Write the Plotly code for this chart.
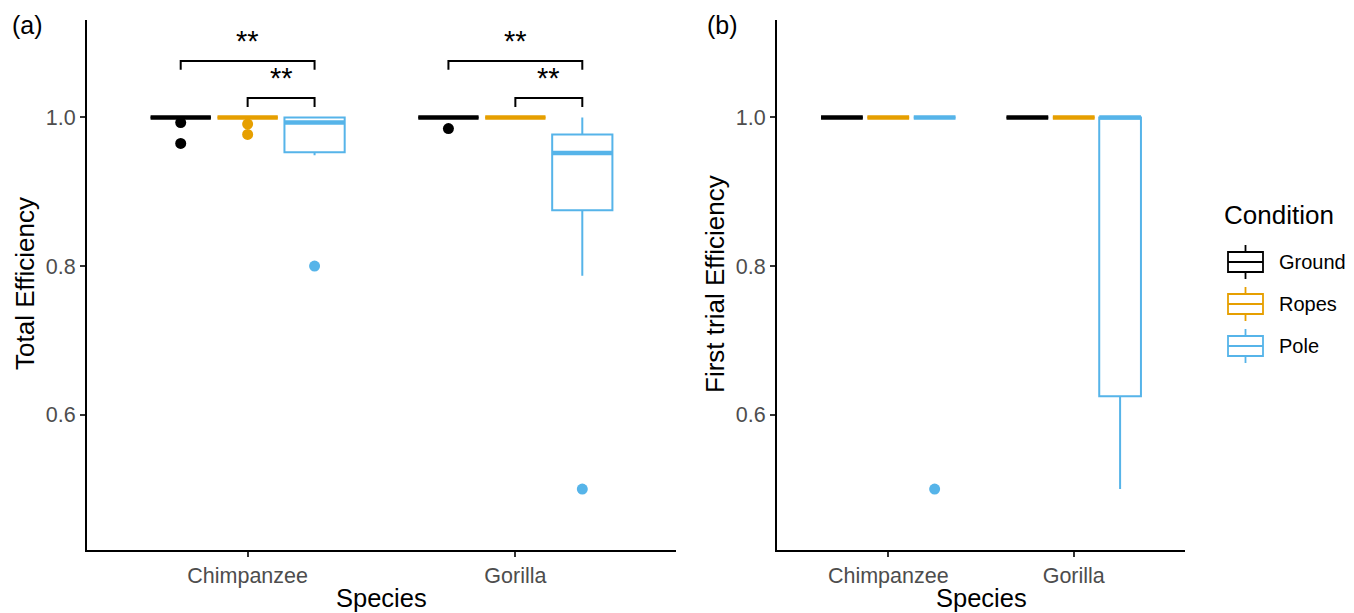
import plotly.graph_objects as go

# ---------------- data ----------------
species = ["Chimpanzee", "Gorilla"]
conditions = ["Ground", "Ropes", "Pole"]
colors = {"Ground": "#000000", "Ropes": "#E69F00", "Pole": "#56B4E9"}

# Panel (a): Total Efficiency, box statistics per condition -> [Chimpanzee, Gorilla]
total_q1 = {"Ground": [1.0, 1.0], "Ropes": [1.0, 1.0], "Pole": [0.953, 0.875]}
total_median = {"Ground": [1.0, 1.0], "Ropes": [1.0, 1.0], "Pole": [0.993, 0.952]}
total_q3 = {"Ground": [1.0, 1.0], "Ropes": [1.0, 1.0], "Pole": [1.0, 0.977]}
total_lower = {"Ground": [1.0, 1.0], "Ropes": [1.0, 1.0], "Pole": [0.949, 0.787]}
total_upper = {"Ground": [1.0, 1.0], "Ropes": [1.0, 1.0], "Pole": [1.0, 1.0]}
total_out_species = {"Ground": ["Chimpanzee", "Chimpanzee", "Gorilla"],
                     "Ropes": ["Chimpanzee", "Chimpanzee"],
                     "Pole": ["Chimpanzee", "Gorilla"]}
total_out_values = {"Ground": [0.993, 0.965, 0.985],
                    "Ropes": [0.991, 0.977],
                    "Pole": [0.80, 0.50]}

# Panel (b): First trial Efficiency
first_q1 = {"Ground": [1.0, 1.0], "Ropes": [1.0, 1.0], "Pole": [1.0, 0.625]}
first_median = {"Ground": [1.0, 1.0], "Ropes": [1.0, 1.0], "Pole": [1.0, 1.0]}
first_q3 = {"Ground": [1.0, 1.0], "Ropes": [1.0, 1.0], "Pole": [1.0, 1.0]}
first_lower = {"Ground": [1.0, 1.0], "Ropes": [1.0, 1.0], "Pole": [1.0, 0.50]}
first_upper = {"Ground": [1.0, 1.0], "Ropes": [1.0, 1.0], "Pole": [1.0, 1.0]}
first_out_species = {"Ground": [], "Ropes": [], "Pole": ["Chimpanzee"]}
first_out_values = {"Ground": [], "Ropes": [], "Pole": [0.50]}

# Significance brackets (panel a)
sig_species = ["Chimpanzee", "Chimpanzee", "Gorilla", "Gorilla"]
sig_from = ["Ground", "Ropes", "Ground", "Ropes"]
sig_to = ["Pole", "Pole", "Pole", "Pole"]
sig_y = [1.076, 1.026, 1.076, 1.026]
sig_label = ["**", "**", "**", "**"]

y_ticks = [0.6, 0.8, 1.0]
y_ticktext = ["0.6", "0.8", "1.0"]

# ---------------- geometry helpers ----------------
dodge = 0.75
box_w = 0.9 * dodge / len(conditions)
sp_pos = {s: i + 1 for i, s in enumerate(species)}


def pos(sp, cond):
    i = conditions.index(cond)
    return sp_pos[sp] + (i - (len(conditions) - 1) / 2) * dodge / len(conditions)


FONT = "Liberation Sans, Arial, Helvetica, sans-serif"
W, H = 1354, 613
OFF = 8  # page body margin


def px(P):
    return (P - OFF) / W


def py(P):
    return 1 - (P - OFF) / H


fig = go.Figure()


def add_panel(xa, ya, q1, med, q3, lo, up, osp, oval):
    for cond in conditions:
        c = colors[cond]
        xs = [pos(s, cond) for s in species]
        fig.add_trace(go.Box(
            x=xs, q1=q1[cond], median=med[cond], q3=q3[cond],
            lowerfence=lo[cond], upperfence=up[cond],
            width=box_w, whiskerwidth=0, boxpoints=False,
            line=dict(color=c, width=2), fillcolor="white",
            name=cond, showlegend=False,
            xaxis=xa, yaxis=ya, hoverinfo="skip"))
    for cond in conditions:
        c = colors[cond]
        mx, my = [], []
        for k, s in enumerate(species):
            p = pos(s, cond)
            mx += [p - box_w / 2, p + box_w / 2, None]
            my += [med[cond][k], med[cond][k], None]
        fig.add_trace(go.Scatter(x=mx, y=my, mode="lines",
                                 line=dict(color=c, width=4.5),
                                 showlegend=False, xaxis=xa, yaxis=ya,
                                 hoverinfo="skip"))
    for cond in conditions:
        if not oval[cond]:
            continue
        fig.add_trace(go.Scatter(
            x=[pos(s, cond) for s in osp[cond]], y=oval[cond], mode="markers",
            marker=dict(color=colors[cond], size=11),
            showlegend=False, xaxis=xa, yaxis=ya, hoverinfo="skip"))


add_panel("x", "y", total_q1, total_median, total_q3, total_lower, total_upper,
          total_out_species, total_out_values)
add_panel("x2", "y2", first_q1, first_median, first_q3, first_lower, first_upper,
          first_out_species, first_out_values)

# significance brackets
tip = 0.012
bx, by = [], []
for s, a, b, yv in zip(sig_species, sig_from, sig_to, sig_y):
    x0, x1 = pos(s, a), pos(s, b)
    bx += [x0, x0, x1, x1, None]
    by += [yv - tip, yv, yv, yv - tip, None]
fig.add_trace(go.Scatter(x=bx, y=by, mode="lines",
                         line=dict(color="black", width=2),
                         showlegend=False, xaxis="x", yaxis="y", hoverinfo="skip"))
for s, a, b, yv, lab in zip(sig_species, sig_from, sig_to, sig_y, sig_label):
    fig.add_annotation(x=(pos(s, a) + pos(s, b)) / 2, y=yv + 0.027, text=lab,
                       xref="x", yref="y", showarrow=False,
                       font=dict(size=29, color="black", family=FONT))

dom_a = [px(87), px(676)]
dom_b = [px(777), px(1185)]
dom_y = [py(550), py(20)]

axis_common = dict(showline=True, linecolor="black", linewidth=2, ticks="outside",
                   ticklen=5, tickwidth=2, tickcolor="#333333", showgrid=False,
                   zeroline=False, tickfont=dict(size=21.5, color="#4D4D4D", family=FONT))

fig.update_layout(
    width=W, height=H, margin=dict(l=0, r=0, t=0, b=0),
    paper_bgcolor="white", plot_bgcolor="white",
    font=dict(family=FONT),
    xaxis=dict(domain=dom_a, range=[0.4, 2.6], tickvals=[1, 2], ticktext=species,
               anchor="y", **axis_common),
    yaxis=dict(domain=dom_y, range=[0.418, 1.131], tickvals=y_ticks,
               ticktext=y_ticktext, anchor="x", **axis_common),
    xaxis2=dict(domain=dom_b, range=[0.4, 2.6], tickvals=[1, 2], ticktext=species,
                anchor="y2", **axis_common),
    yaxis2=dict(domain=dom_y, range=[0.418, 1.131], tickvals=y_ticks,
                ticktext=y_ticktext, anchor="x2", **axis_common),
    showlegend=False,
)


def ann(text, xpx, ypx, size, angle=0, color="black", xanchor="center"):
    fig.add_annotation(x=px(xpx), y=py(ypx), xref="paper", yref="paper",
                       text=text, showarrow=False, textangle=angle,
                       xanchor=xanchor, yanchor="middle",
                       font=dict(size=size, color=color, family=FONT))


# axis titles and panel tags
ann("Species", (87 + 676) / 2, 598, 25.5)
ann("Species", (777 + 1185) / 2, 598, 25.5)
ann("Total Efficiency", 25, 284, 26, angle=-90)
ann("First trial Efficiency", 715, 284, 26, angle=-90)
ann("(a)", 27, 25, 25)
ann("(b)", 722, 25, 25)

# legend (drawn in paper space, ggplot style box glyphs)
ann("Condition", 1222, 215, 26, xanchor="left")
leg_centers = [262, 304, 346]
for cond, cy in zip(conditions, leg_centers):
    c = colors[cond]
    x0, x1, xm = 1228, 1263, 1245.5
    fig.add_shape(type="rect", xref="paper", yref="paper",
                  x0=px(x0), x1=px(x1), y0=py(cy + 10), y1=py(cy - 10),
                  line=dict(color=c, width=1.8), fillcolor="white")
    fig.add_shape(type="line", xref="paper", yref="paper",
                  x0=px(x0), x1=px(x1), y0=py(cy), y1=py(cy),
                  line=dict(color=c, width=1.8))
    fig.add_shape(type="line", xref="paper", yref="paper",
                  x0=px(xm), x1=px(xm), y0=py(cy - 17), y1=py(cy - 10),
                  line=dict(color=c, width=1.8))
    fig.add_shape(type="line", xref="paper", yref="paper",
                  x0=px(xm), x1=px(xm), y0=py(cy + 10), y1=py(cy + 17),
                  line=dict(color=c, width=1.8))
    ann(cond, 1277, cy, 20, xanchor="left")

fig.write_html("out.html")
